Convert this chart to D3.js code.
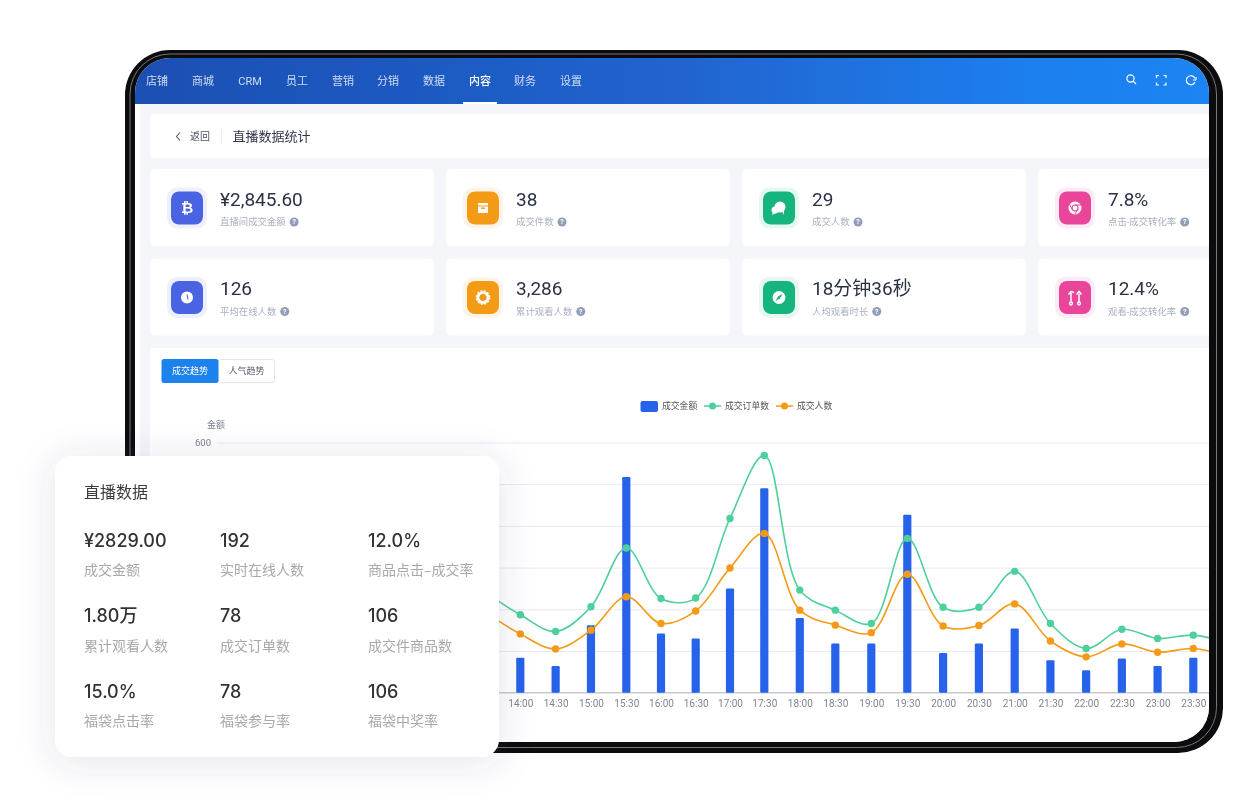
<!DOCTYPE html>
<html>
<head>
<meta charset="utf-8">
<script src="https://cdn.jsdelivr.net/npm/d3@7"></script>
<style>
  html, body { margin: 0; background: #fff; overflow: hidden; }
  svg { display: block; }
  text { font-family: Roboto, "Noto Sans CJK SC", sans-serif; }
</style>
</head>
<body>
<svg id="page" width="1251" height="800"></svg>
<script>
// chart data (13:30 and 24:00 sit behind the card / past the screen edge)
const times = ['13:30','14:00','14:30','15:00','15:30','16:00','16:30','17:00','17:30','18:00','18:30','19:00','19:30','20:00','20:30','21:00','21:30','22:00','22:30','23:00','23:30','24:00']
const amount = [null,84,64,162,517,142,130,250,490,179,118,118,427,95,118,154,78,54,82,64,84,null]
const orders = [242,187,147,206,347,226,227,418,569,246,198,166,370,205,205,291,166,106,152,130,138,118]
const people = [194,141,105,150,230,166,196,299,382,198,162,144,284,160,161,213,124,86,117,97,106,88]
const yTicks = [0,100,200,300,400,500,600]

const navItems = ['店铺','商城','CRM','员工','营销','分销','数据','内容','财务','设置']
const navCenters = [157,203,250,297,343,388,434,480,525,571]

const statValues = ['¥2,845.60','38','29','7.8%','126','3,286','18分钟36秒','12.4%']
const statLabels = ['直播间成交金额','成交件数','成交人数','点击-成交转化率','平均在线人数','累计观看人数','人均观看时长','观看-成交转化率']
const statColors = ['#4a63e3','#f39a16','#12b57d','#e9459b','#4a63e3','#f39a16','#12b57d','#e9459b']
const statHalos = ['#eef0fd','#fef4e7','#e6f8f0','#fdecf5','#eef0fd','#fef4e7','#e6f8f0','#fdecf5']
const statIcons = ['coin','box','chat','chrome','clock','gear','compass','swap']

const cardValues = ['¥2829.00','192','12.0%','1.80万','78','106','15.0%','78','106']
const cardLabels = ['成交金额','实时在线人数','商品点击–成交率','累计观看人数','成交订单数','成交件商品数','福袋点击率','福袋参与率','福袋中奖率']

const colBar = '#2764ea', colGreen = '#4ed09b', colOrange = '#f59a16'

const svg = d3.select('#page')
const defs = svg.append('defs')

const navGrad = defs.append('linearGradient').attr('id', 'navGrad')
navGrad.append('stop').attr('offset', '0%').attr('stop-color', '#1d4fb2')
navGrad.append('stop').attr('offset', '50%').attr('stop-color', '#2063cf')
navGrad.append('stop').attr('offset', '85%').attr('stop-color', '#1f80ef')
navGrad.append('stop').attr('offset', '100%').attr('stop-color', '#1e84f3')

defs.append('clipPath').attr('id', 'screenClip').append('rect')
  .attr('x', 135).attr('y', 58).attr('width', 1074).attr('height', 684).attr('rx', 35)

const shadow = defs.append('filter').attr('id', 'cardShadow')
  .attr('x', '-25%').attr('y', '-25%').attr('width', '150%').attr('height', '150%')
shadow.append('feDropShadow').attr('dx', 0).attr('dy', 4).attr('stdDeviation', 18)
  .attr('flood-color', '#3c4678').attr('flood-opacity', 0.15)

// the screenshot inside the device is a little soft
defs.append('filter').attr('id', 'soft').attr('x', 0).attr('y', 0).attr('width', '100%').attr('height', '100%')
  .append('feGaussianBlur').attr('stdDeviation', 0.4)

function txt(g, x, y, s, size, color, anchor) {
  return g.append('text').attr('x', x).attr('y', y).attr('dy', '0.35em')
    .attr('font-size', size).attr('fill', color).attr('text-anchor', anchor || 'start').text(s)
}

drawFrame()
const screen = svg.append('g').attr('clip-path', 'url(#screenClip)').append('g').attr('filter', 'url(#soft)')
drawNav()
drawStats()
drawChart()
drawCard()

function drawFrame() {
  svg.append('rect').attr('x', 125).attr('y', 50).attr('width', 1098).attr('height', 703).attr('rx', 45).attr('fill', '#0c0c0e')
  svg.append('rect').attr('x', 130).attr('y', 54).attr('width', 1086.5).attr('height', 693.5).attr('rx', 40)
    .attr('fill', 'none').attr('stroke', '#77777c').attr('stroke-width', 1)
  svg.append('rect').attr('x', 135).attr('y', 58).attr('width', 1074).attr('height', 684).attr('rx', 35).attr('fill', '#fff')
}

function drawNav() {
  screen.append('rect').attr('x', 135).attr('y', 58).attr('width', 1074).attr('height', 684).attr('fill', '#fff')
  screen.append('rect').attr('x', 140).attr('y', 103).attr('width', 1069).attr('height', 625).attr('fill', '#f5f6fa')
  screen.append('rect').attr('x', 135).attr('y', 58).attr('width', 1074).attr('height', 46).attr('fill', 'url(#navGrad)')
  navItems.forEach(function(d, i) {
    txt(screen, navCenters[i], 81, d, 11, d == '内容' ? '#fff' : 'rgba(255,255,255,0.78)', 'middle')
      .attr('font-weight', d == '内容' ? 500 : 400)
  })
  screen.append('rect').attr('x', 463).attr('y', 102).attr('width', 34).attr('height', 2).attr('fill', '#fff')

  // search, fullscreen, refresh
  const w = screen.append('g').attr('fill', 'none').attr('stroke', '#fff').attr('stroke-width', 1.2)
  w.append('circle').attr('cx', 1130.5).attr('cy', 78.5).attr('r', 3.6)
  w.append('path').attr('d', 'M1133.2 81.2L1136 84')
  w.append('path').attr('d', 'M1156.5 78V75.5H1159M1163.5 75.5H1166V78M1166 82.5V85H1163.5M1159 85H1156.5V82.5')
  w.append('path').attr('d', 'M1195 78.5A4.5 4.5 0 1 0 1195 82')
  w.append('path').attr('d', 'M1193 80H1196V77').attr('stroke-width', 1)

  // title row
  screen.append('rect').attr('x', 150).attr('y', 114).attr('width', 1059).attr('height', 44).attr('rx', 4).attr('fill', '#fff')
  screen.append('path').attr('d', 'M180 132.5L176.5 136.5L180 140.5').attr('fill', 'none').attr('stroke', '#555b6c').attr('stroke-width', 1.1)
  txt(screen, 190, 136.5, '返回', 10, '#4a4f5e')
  screen.append('rect').attr('x', 221).attr('y', 130).attr('width', 1).attr('height', 13).attr('fill', '#eceef3')
  txt(screen, 232.5, 136, '直播数据统计', 13, '#30364a')
}

function drawStats() {
  const xs = [150, 446, 742, 1038], ys = [169, 258.5]
  statValues.forEach(function(v, i) {
    const x = xs[i % 4], y = ys[Math.floor(i / 4)]
    const g = screen.append('g').attr('transform', 'translate(' + x + ',' + y + ')')
    g.append('rect').attr('width', 284).attr('height', 77).attr('rx', 5).attr('fill', '#fff')
    g.append('rect').attr('x', 17).attr('y', 18.5).attr('width', 40).attr('height', 41).attr('rx', 10).attr('fill', statHalos[i])
    g.append('rect').attr('x', 21).attr('y', 22.5).attr('width', 32).attr('height', 33).attr('rx', 8).attr('fill', statColors[i])
    drawIcon(g.append('g').attr('transform', 'translate(37,39)'), statIcons[i], statColors[i])
    txt(g, 70, 30, v, 19, '#2b3045')
    const label = txt(g, 70, 53, statLabels[i], 9.4, '#a9afbe')
    const lw = label.node().getComputedTextLength()
    g.append('circle').attr('cx', 70 + lw + 8.5).attr('cy', 53).attr('r', 4.5).attr('fill', '#939db6')
    txt(g, 70 + lw + 8.5, 53, '?', 7, '#fff', 'middle').attr('font-weight', 700)
  })
}

function drawIcon(g, kind, bg) {
  if (kind == 'coin') {
    txt(g, 0, 0, '₿', 15, '#fff', 'middle').attr('font-family', 'DejaVu Sans').attr('font-weight', 700)
  } else if (kind == 'box') {
    g.append('rect').attr('x', -5).attr('y', -5).attr('width', 10).attr('height', 2.5).attr('fill', '#fff')
    g.append('rect').attr('x', -5).attr('y', -1.5).attr('width', 10).attr('height', 6.5).attr('fill', '#fff')
    g.append('rect').attr('x', -2).attr('y', -0.5).attr('width', 4).attr('height', 1.4).attr('fill', bg)
  } else if (kind == 'chat') {
    g.append('circle').attr('cx', 1).attr('cy', -1).attr('r', 5.5).attr('fill', '#fff')
    g.append('circle').attr('cx', -4).attr('cy', 2).attr('r', 3.5).attr('fill', '#fff')
    g.append('path').attr('d', 'M-6 4L-7 7L-3 5ZM3 3L5 7L5 1Z').attr('fill', '#fff')
  } else if (kind == 'chrome') {
    g.append('circle').attr('r', 6.5).attr('fill', '#fff')
    g.append('circle').attr('r', 3).attr('fill', 'none').attr('stroke', bg).attr('stroke-width', 1.2)
    g.append('path').attr('d', 'M0 -3H6M-2.6 1.5L-5.5 -3.5M2.6 1.5L0 6').attr('stroke', bg).attr('stroke-width', 1)
  } else if (kind == 'clock') {
    g.append('circle').attr('r', 6).attr('fill', '#fff')
    g.append('path').attr('d', 'M0 -3L1 2').attr('stroke', bg).attr('stroke-width', 1.1)
  } else if (kind == 'gear') {
    g.append('circle').attr('r', 5).attr('fill', 'none').attr('stroke', '#fff').attr('stroke-width', 2.6)
    g.append('circle').attr('r', 6.5).attr('fill', 'none').attr('stroke', '#fff').attr('stroke-width', 1.6).attr('stroke-dasharray', '2 1.4')
  } else if (kind == 'compass') {
    g.append('circle').attr('r', 6.5).attr('fill', '#fff')
    g.append('path').attr('d', 'M3.5 -3.5L1 1L-3.5 3.5L-1 -1Z').attr('fill', bg)
  } else if (kind == 'swap') {
    const s = g.append('g').attr('fill', 'none').attr('stroke', '#fff').attr('stroke-width', 1.5)
    s.append('path').attr('d', 'M-4 -5V4M-4 4').attr('stroke-width', 1.5)
    s.append('circle').attr('cx', -4).attr('cy', 6).attr('r', 1.4)
    s.append('path').attr('d', 'M4 5V-4')
    s.append('circle').attr('cx', 4).attr('cy', 6).attr('r', 1.4)
    s.append('path').attr('d', 'M-6.5 -3L-4 -6L-1 -5M1.5 -3L4 -6L6.5 -3')
  }
}

function drawChart() {
  screen.append('rect').attr('x', 150).attr('y', 348).attr('width', 1059).attr('height', 380).attr('fill', '#fff')
  screen.append('rect').attr('x', 135).attr('y', 732).attr('width', 1074).attr('height', 10).attr('fill', '#fff')

  // tabs
  screen.append('rect').attr('x', 218).attr('y', 359.5).attr('width', 56.5).attr('height', 23).attr('rx', 2.5).attr('fill', '#fff').attr('stroke', '#e3e6ee')
  screen.append('rect').attr('x', 161.5).attr('y', 359).attr('width', 57).attr('height', 24).attr('rx', 2.5).attr('fill', '#1f83ee')
  txt(screen, 190, 371, '成交趋势', 9, '#fff', 'middle')
  txt(screen, 246.5, 371, '人气趋势', 9, '#5b6070', 'middle')

  // legend
  screen.append('rect').attr('x', 640.5).attr('y', 401).attr('width', 17.5).attr('height', 11).attr('rx', 2).attr('fill', colBar)
  txt(screen, 662, 406, '成交金额', 8.8, '#555')
  screen.append('rect').attr('x', 704).attr('y', 405.3).attr('width', 17).attr('height', 1.5).attr('fill', colGreen)
  screen.append('circle').attr('cx', 712.5).attr('cy', 406).attr('r', 3.5).attr('fill', colGreen)
  txt(screen, 725, 406, '成交订单数', 8.8, '#555')
  screen.append('rect').attr('x', 776).attr('y', 405.3).attr('width', 17).attr('height', 1.5).attr('fill', colOrange)
  screen.append('circle').attr('cx', 784.5).attr('cy', 406).attr('r', 3.5).attr('fill', colOrange)
  txt(screen, 797, 406, '成交人数', 8.8, '#555')

  txt(screen, 216, 425, '金额', 9, '#7d818c', 'middle')

  // the category positions in the picture are not quite even, so the scale is pinned at a few indexes
  const x = d3.scaleLinear().domain([0, 1, 4, 6, 8, 10, 12, 15, 20, 21]).range([485, 520.3, 626.3, 695.7, 764.3, 835.3, 907.3, 1014.7, 1193.3, 1228.7])
  const y = d3.scaleLinear().domain([0, 600]).range([692.7, 442.5])

  const yAxis = screen.append('g').attr('transform', 'translate(217,0)')
    .call(d3.axisLeft(y).tickValues(yTicks).tickSize(-1000).tickPadding(6))
  yAxis.select('.domain').remove()
  yAxis.selectAll('line').attr('stroke', '#e6eaf6')
  yAxis.selectAll('text').attr('font-size', 9.5).attr('fill', '#7d818c').style('font-family', 'Roboto')

  const xAxis = screen.append('g').attr('transform', 'translate(0,692.7)')
    .call(d3.axisBottom(x).tickValues(d3.range(times.length)).tickFormat(function(i) { return times[i] }).tickSize(0).tickPadding(7))
  xAxis.select('.domain').remove()
  xAxis.selectAll('text').attr('font-size', 10).attr('fill', '#80848e').style('font-family', 'Roboto')
  screen.append('line').attr('x1', 217).attr('x2', 1209).attr('y1', y(0)).attr('y2', y(0)).attr('stroke', '#c6c8cd').attr('stroke-width', 1.2)

  const barWidth = 8.2
  screen.append('g').selectAll('rect')
    .data(amount.map(function(v, i) { return {i: i, v: v} }).filter(function(d) { return d.v !== null }))
    .join('rect')
    .attr('x', function(d) { return x(d.i) - barWidth / 2 })
    .attr('y', function(d) { return y(d.v) })
    .attr('width', barWidth)
    .attr('height', function(d) { return y(0) - y(d.v) })
    .attr('rx', 1.2)
    .attr('fill', colBar)

  drawLine(orders, colGreen)
  drawLine(people, colOrange)

  function drawLine(values, color) {
    const line = d3.line().x(function(d, i) { return x(i) }).y(function(d) { return y(d) }).curve(d3.curveCatmullRom)
    screen.append('path').attr('d', line(values)).attr('fill', 'none').attr('stroke', color).attr('stroke-width', 1.6)
    screen.append('g').selectAll('circle').data(values).join('circle')
      .attr('cx', function(d, i) { return x(i) })
      .attr('cy', function(d) { return y(d) })
      .attr('r', 3.7)
      .attr('fill', color)
  }
}

function drawCard() {
  const g = svg.append('g')
  g.append('rect').attr('x', 55).attr('y', 456).attr('width', 444).attr('height', 301).attr('rx', 17)
    .attr('fill', '#fff').attr('filter', 'url(#cardShadow)')
  txt(g, 84, 492.5, '直播数据', 16, '#3a3a3a').style('font-family', '"Noto Sans CJK SC"')
  const xs = [84, 220, 368], valueYs = [540.5, 616, 692], labelYs = [570, 646, 721.5]
  cardValues.forEach(function(v, i) {
    const cx = xs[i % 3], r = Math.floor(i / 3)
    txt(g, cx, valueYs[r], v, 18, '#333').attr('font-weight', 500).style('font-family', 'Inter, "Noto Sans CJK SC"')
    txt(g, cx, labelYs[r], cardLabels[i], 14, '#a8a8a8').style('font-family', '"Noto Sans CJK SC"')
  })
}
</script>
</body>
</html>
